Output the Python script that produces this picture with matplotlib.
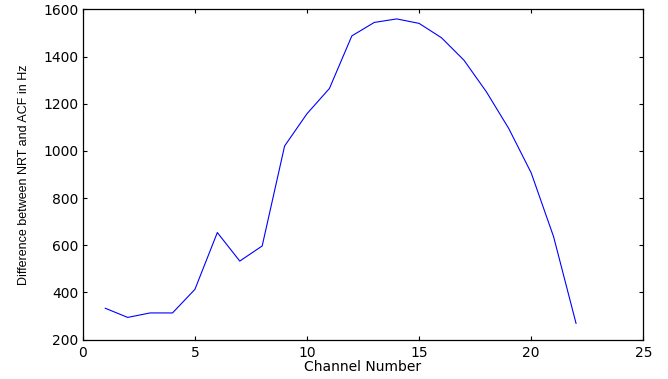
import matplotlib
matplotlib.use('Agg')
from matplotlib import pyplot as plt

channels = list(range(1, 23))
diff_hz = [333, 294, 313, 313, 413, 654, 533, 597, 1021, 1158, 1265, 1488,
           1545, 1560, 1541, 1480, 1385, 1251, 1095, 907, 636, 269]

plt.rcParams['font.family'] = ['DejaVu Sans']

fig = plt.figure(figsize=(6.68, 3.79), dpi=100)
ax = fig.add_axes([0.124, 0.104, 0.839, 0.871])

ax.plot(channels, diff_hz, color='#0000ff', linewidth=0.8)

ax.set_xlim(0, 25)
ax.set_ylim(200, 1600)
ax.set_xticks([0, 5, 10, 15, 20, 25])
ax.set_yticks(range(200, 1601, 200))
ax.tick_params(direction='in', top=True, right=True, length=3, width=0.8,
               labelsize=10, pad=3)
ax.tick_params(axis='x', pad=4.5)
for side in ax.spines.values():
    side.set_linewidth(0.9)

# the reference text looks stretched sideways: wide font for horizontal text,
# narrow one for the rotated label
ax.set_xlabel('Channel Number', fontsize=10, labelpad=0)
ax.set_ylabel('Difference between NRT and ACF in Hz', fontsize=9,
              family=['Liberation Sans', 'DejaVu Sans'], labelpad=10)

fig.savefig('out.png', dpi=100)
